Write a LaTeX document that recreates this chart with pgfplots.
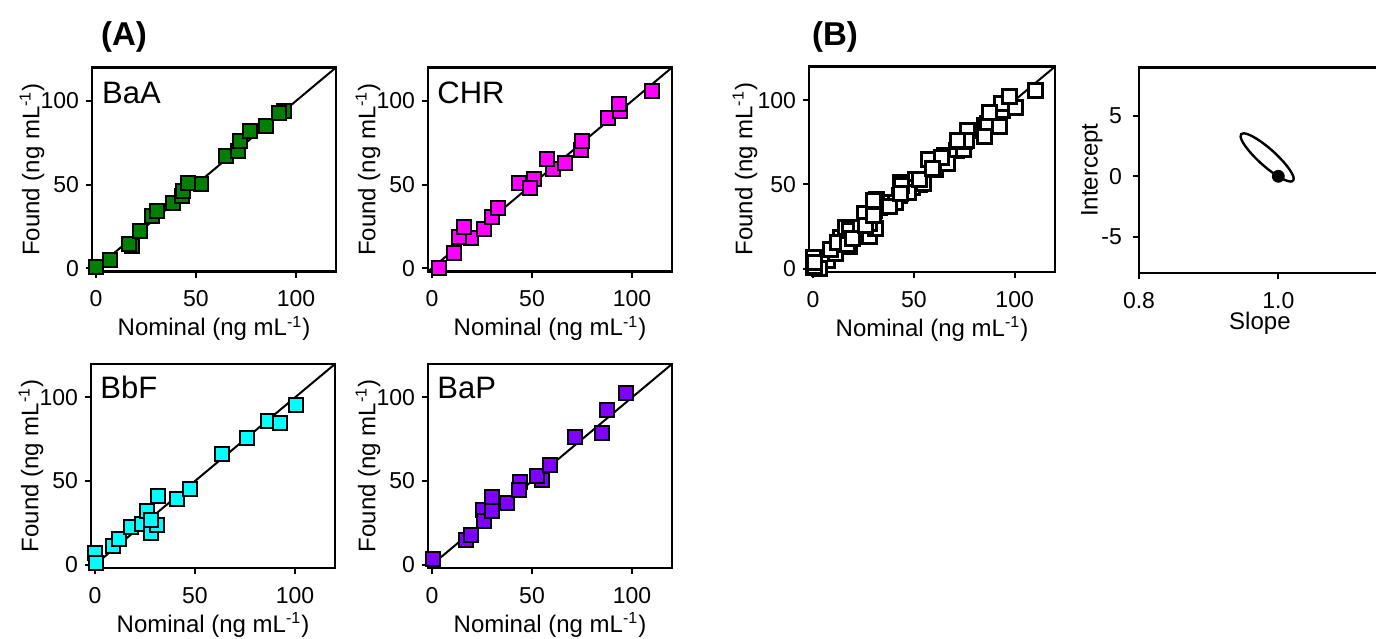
\documentclass[border=0pt]{standalone}
\usepackage{fontspec}
\setmainfont{Liberation Sans}
\usepackage{pgfplots}
\pgfplotsset{compat=1.18}
\usepackage{pgfplotstable}

\definecolor{cBaA}{RGB}{0,128,0}
\definecolor{cCHR}{RGB}{255,0,255}
\definecolor{cBbF}{RGB}{0,255,255}
\definecolor{cBaP}{RGB}{128,0,255}

\pgfplotstableread{
x y
0 0.6
7.1 4.6
18 13
16.3 14.5
22 22.4
27.9 31.3
30.3 34.3
38.6 39.2
42.8 43.2
43.6 46.1
52.7 50.1
46.1 51.1
65.2 66.9
71 69.9
71.8 75.8
76.8 81.8
85.1 84.8
94.2 93.7
91.7 92.7
}\BaA

\pgfplotstableread{
x y
3.3 0
10.9 9.1
19.5 17.8
13.7 18.4
16.2 24.4
26.1 23.4
30.2 30.3
33.1 36.2
43.5 51.1
50.9 53.1
49.2 48.1
60.5 59
57.5 65
66.6 62.6
74.4 70.9
74.9 75.8
88.1 89.7
93.9 93.7
93.6 98.2
110.1 106.1
}\CHR

\pgfplotstableread{
x y
0.2 6.7
0.5 1.2
8.8 11.1
12.1 15.4
17.9 22.5
23.7 24.5
26.2 31.8
27.9 19
31.2 23.9
27.9 26.9
31.7 41.3
41.1 39.1
47.3 45.1
63.5 66
76 75.9
86.4 86.2
92.5 84.6
100.5 95.7
}\BbF

\pgfplotstableread{
x y
0.5 3.6
17 14.6
19.5 18
25.3 32.8
26.1 25.9
30.2 40.7
30.2 31.8
37.7 36.8
44 49.6
43.5 44.7
55 50.6
52.6 53
59.2 59.5
71.6 76.3
84.8 78.7
87.3 92.5
97.2 102.4
}\BaP

\pgfplotstableread{
x y
1.0213 -0.367
1.0221 -0.167
1.0204 0.151
1.0161 0.564
1.0097 1.045
1.0015 1.562
0.9922 2.078
0.9823 2.559
0.9724 2.972
0.9634 3.289
0.9558 3.487
0.9501 3.555
0.9467 3.487
0.9459 3.287
0.9476 2.969
0.9519 2.556
0.9583 2.075
0.9665 1.558
0.9758 1.042
0.9857 0.561
0.9956 0.148
1.0046 -0.169
1.0122 -0.367
1.0179 -0.435
1.0213 -0.367
}\Ellipse

\tikzset{
  cname/.style={font=\fontsize{15.5}{17}\selectfont, anchor=west, inner sep=0pt},
  ptitle/.style={font=\bfseries\fontsize{16.5}{18}\selectfont, anchor=center, inner sep=0pt},
}

\pgfplotsset{
  base/.style={
    scale only axis, anchor=south west, clip=false,
    tick align=outside, xtick pos=bottom, ytick pos=left,
    major tick length=3pt,
    every tick/.style={black, line width=1pt},
    axis line style={line width=1.2pt},
    tick label style={font=\fontsize{11.5}{13}\selectfont},
    /pgf/number format/assume math mode=true,
    xticklabel style={yshift=-3pt},
  },
  calib/.style={
    base,
    width=122pt, height=102pt,
    xmin=-2, xmax=120, ymin=-2, ymax=120,
    xtick={0,50,100}, ytick={0,50,100},
    xlabel={Nominal (ng mL\textsuperscript{-1})},
    ylabel={Found (ng mL\textsuperscript{-1})},
    every axis x label/.style={at={(axis description cs:0.5,0)}, anchor=center, yshift=-28.5pt, font=\fontsize{12}{14}\selectfont},
    every axis y label/.style={at={(axis description cs:-0.246,0.5)}, anchor=center, rotate=90, font=\fontsize{12}{14}\selectfont},
  },
  sq/.style={only marks, mark=square*, mark size=3.5pt, mark options={line width=1pt, draw=black, fill=#1}},
  sqw/.style={only marks, mark=square*, mark size=3.5pt, mark options={line width=1.5pt, draw=black, fill=white}},
  diag/.style={black, line width=1pt, no marks},
}

\begin{document}
\begin{tikzpicture}
\useasboundingbox (0,0) rectangle (688pt,319pt);
\clip (0,0) rectangle (688pt,319pt);

% BaA
\begin{axis}[calib, at={(46pt,183.25pt)}]
\addplot[diag] coordinates {(-2,-2) (120,120)};
\addplot[sq=cBaA] table[x=x,y=y] {\BaA};
\node[cname] at (axis description cs:0.04,0.877) {BaA};
\node[ptitle] at (axis description cs:0.131,1.15) {(A)};
\end{axis}

% CHR
\begin{axis}[calib, at={(214pt,183.25pt)}]
\addplot[diag] coordinates {(-2,-2) (120,120)};
\addplot[sq=cCHR] table[x=x,y=y] {\CHR};
\node[cname] at (axis description cs:0.037,0.877) {CHR};
\end{axis}

% BbF
\begin{axis}[calib, at={(45.5pt,35pt)}]
\addplot[diag] coordinates {(-2,-2) (120,120)};
\addplot[sq=cBbF] table[x=x,y=y] {\BbF};
\node[cname] at (axis description cs:0.037,0.884) {BbF};
\end{axis}

% BaP
\begin{axis}[calib, at={(214pt,35pt)}]
\addplot[diag] coordinates {(-2,-2) (120,120)};
\addplot[sq=cBaP] table[x=x,y=y] {\BaP};
\node[cname] at (axis description cs:0.037,0.884) {BaP};
\end{axis}

% (B) combined
\begin{axis}[calib, at={(404.5pt,183pt)}, width=123pt, height=102.7pt,
  every axis y label/.style={at={(axis description cs:-0.26,0.5)}, anchor=center, rotate=90, font=\fontsize{12}{14}\selectfont}]
\addplot[diag] coordinates {(-2,-2) (120,120)};
\addplot[sqw] table[x=x,y=y] {\BaA};
\addplot[sqw] table[x=x,y=y] {\CHR};
\addplot[sqw] table[x=x,y=y] {\BbF};
\addplot[sqw] table[x=x,y=y] {\BaP};
\node[ptitle] at (axis description cs:0.106,1.145) {(B)};
\end{axis}

% Ellipse
\begin{axis}[base, at={(569.5pt,182.5pt)}, width=139.3pt, height=102.75pt,
  xmin=0.8, xmax=1.2, ymin=-8, ymax=9,
  xtick={0.8,1.0}, ytick={-5,0,5},
  xticklabel style={/pgf/number format/.cd, fixed, fixed zerofill, precision=1},
  yticklabel style={xshift=-2pt},
  xlabel={Slope}, ylabel={Intercept},
  every axis x label/.style={at={(axis description cs:0.434,0)}, anchor=center, yshift=-25pt, font=\fontsize{12}{14}\selectfont},
  every axis y label/.style={at={(axis description cs:-0.169,0.5)}, anchor=center, rotate=90, font=\fontsize{12}{14}\selectfont},
  ]
\addplot[black, line width=1.2pt, smooth, no marks] table[x=x,y=y] {\Ellipse};
\addplot[only marks, mark=*, mark size=3pt, black] coordinates {(1.0,0)};
\end{axis}
\end{tikzpicture}
\end{document}
